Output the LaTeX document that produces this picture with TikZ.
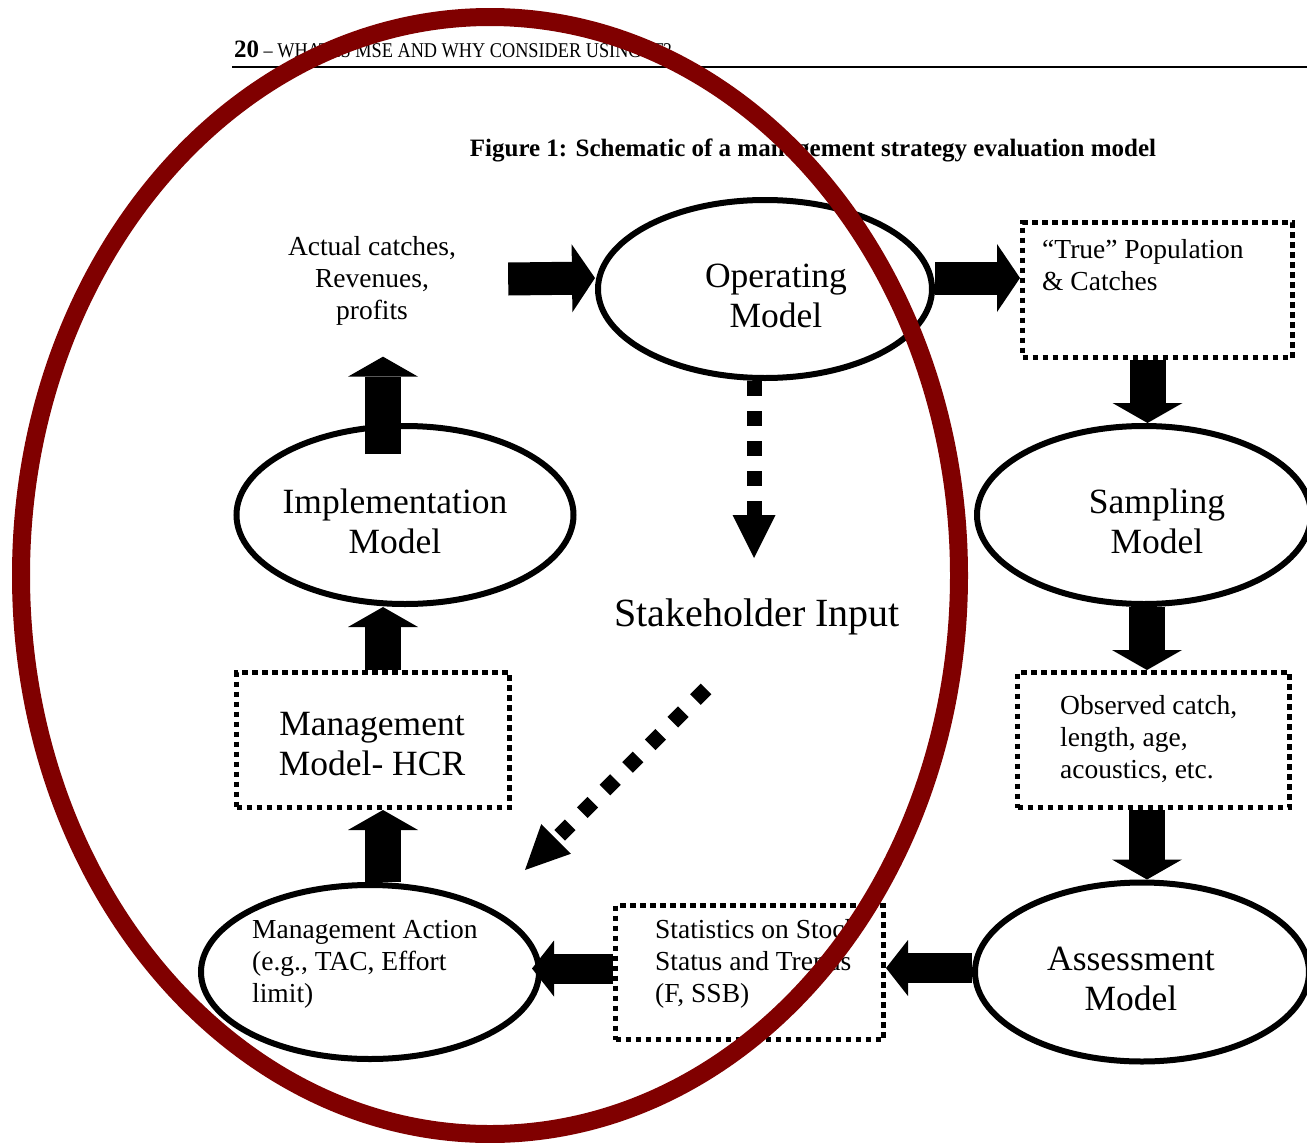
\documentclass[tikz,border=0pt]{standalone}
\usepackage{fontspec}
\setmainfont{Liberation Serif}
\usetikzlibrary{shapes.geometric,arrows.meta}
\definecolor{redring}{RGB}{128,0,0}
\begin{document}
\begin{tikzpicture}[x=1pt,y=-1pt,
  ell/.style={ellipse,draw,line width=6pt,inner sep=0pt},
  dbox/.style={draw,line width=5pt,dash pattern=on 5.5pt off 4.5pt,inner sep=0pt},
  lbl/.style={inner sep=0pt,font=\fontsize{27.5}{32}\selectfont},
  big/.style={inner sep=0pt,align=center,font=\fontsize{35.5}{40}\selectfont},
  fath/.style={line width=33pt,-{Triangle[width=68pt,length=23pt,line width=0pt]}},
  fatl/.style={line width=30pt,-{Triangle[width=56pt,length=22pt,line width=0pt]}},
  fatv/.style={line width=36pt,-{Triangle[width=70pt,length=20pt,line width=0pt]}},
  dotv/.style={line width=15pt,dash pattern=on 15pt off 15pt,-{Triangle[width=43pt,length=43pt,line width=0pt]}},
  dotd/.style={line width=15pt,dash pattern=on 15pt off 17pt,-{Triangle[width=42pt,length=44pt,line width=0pt]}},
]
\useasboundingbox (0,0) rectangle (1307,1143);
\fill[white] (0,0) rectangle (1307,1143);

% header
\node[anchor=base west,inner sep=0pt,font=\bfseries\fontsize{25}{28}\selectfont] (pg) at (234,57) {20};
\node[anchor=base west,inner sep=0pt,font=\fontsize{21}{24}\selectfont] (hd) at ([xshift=4pt]pg.base east) {\scalebox{0.87}[1]{– WHAT IS MSE AND WHY CONSIDER USING IT?}};
\draw[line width=1.5pt] (232,67) -- (1307,67);

% title
\node[inner sep=0pt,font=\bfseries\fontsize{25}{28}\selectfont] (title) at (813,150) {Figure 1: Schematic of a management strategy evaluation model};

% ellipses
\node[ell,minimum width=334pt,minimum height=178pt] (om) at (765,289) {};
\node[ell,minimum width=337pt,minimum height=178pt] (impl) at (405,515) {};
\node[ell,minimum width=334pt,minimum height=178pt] (samp) at (1144,515) {};
\node[ell,minimum width=334pt,minimum height=179pt] (ass) at (1142,972) {};
\node[ell,minimum width=338pt,minimum height=174pt] (ma) at (370,972) {};

% boxes
\node[dbox,minimum width=270pt,minimum height=135pt] (true) at (1157.5,290) {};
\node[dbox,minimum width=272pt,minimum height=135pt] (obs) at (1153.5,740) {};
\node[dbox,minimum width=268pt,minimum height=134pt] (stat) at (749.5,972.5) {};
\node[dbox,minimum width=273pt,minimum height=135pt] (mm) at (373,740) {};

% texts
\node[lbl,align=center] (act) at (372,281) {Actual catches,\\Revenues,\\profits};
\node[big] (omt) at (776,296) {Operating\\Model};
\node[lbl,align=left,anchor=west] (truet) at (1042,265) {“True” Population\\\& Catches};
\node[big] (sampt) at (1157,521) {Sampling\\Model};
\node[lbl,align=left,anchor=west] (obst) at (1060,739) {Observed catch,\\length, age,\\acoustics, etc.};
\node[big] (asst) at (1131,979) {Assessment\\Model};
\node[lbl,align=left,anchor=west] (statt) at (655,964) {Statistics on Stock\\Status and Trends\\(F, SSB)};
\node[lbl,align=left,anchor=west] (mat) at (252,964) {Management Action\\(e.g., TAC, Effort\\limit)};
\node[big] (mmt) at (372,744) {Management\\Model- HCR};
\node[big] (implt) at (395,521) {Implementation\\Model};
\node[inner sep=0pt,font=\fontsize{40}{44}\selectfont] (stk) at (757,617) {Stakeholder Input};

% fat arrows
\draw[fath] ([xshift=52pt,yshift=2pt]act.east) -- ([yshift=11pt]om.west);
\draw[fath] ([yshift=11pt]om.east) -- ([yshift=12pt]true.west);
\draw[fatv] ([xshift=-10pt]true.south) -- ([xshift=-10pt]true.south |- samp.north);
\draw[fatv] ([xshift=-6.5pt]obs.north |- samp.south) -- ([xshift=-6.5pt]obs.north);
\draw[fatv] ([xshift=-6.5pt]obs.south) -- ([xshift=-6.5pt]obs.south |- ass.north);
\draw[fatl] ([yshift=4pt]ass.west) -- ([yshift=4pt]ass.west -| stat.east);
\draw[fatl] ([yshift=4pt]stat.west) -- ([xshift=-10pt,yshift=4pt]stat.west -| ma.east);
\draw[fatv] ([xshift=10pt]mm.south |- ma.north) -- ([xshift=10pt]mm.south);
\draw[fatv] ([xshift=10pt]mm.north) -- ([xshift=10pt]mm.north |- impl.south);
\draw[fatv] ([xshift=11pt,yshift=-31pt]act.south |- impl.north) -- ([xshift=11pt,yshift=-31pt]act.south);

% dotted arrows
\coordinate (dtip) at (754,558);
\draw[dotv] ([xshift=-11pt]om.south) -- (dtip);
\coordinate (dstart) at (706,689);
\coordinate (dtip2) at (525,870);
\draw[dotd] (dstart) -- (dtip2);

% red ring
\node[ellipse,draw=redring,line width=18pt,inner sep=0pt,minimum width=938pt,minimum height=1117pt] (ring) at (490,575.5) {};
\end{tikzpicture}
\end{document}
